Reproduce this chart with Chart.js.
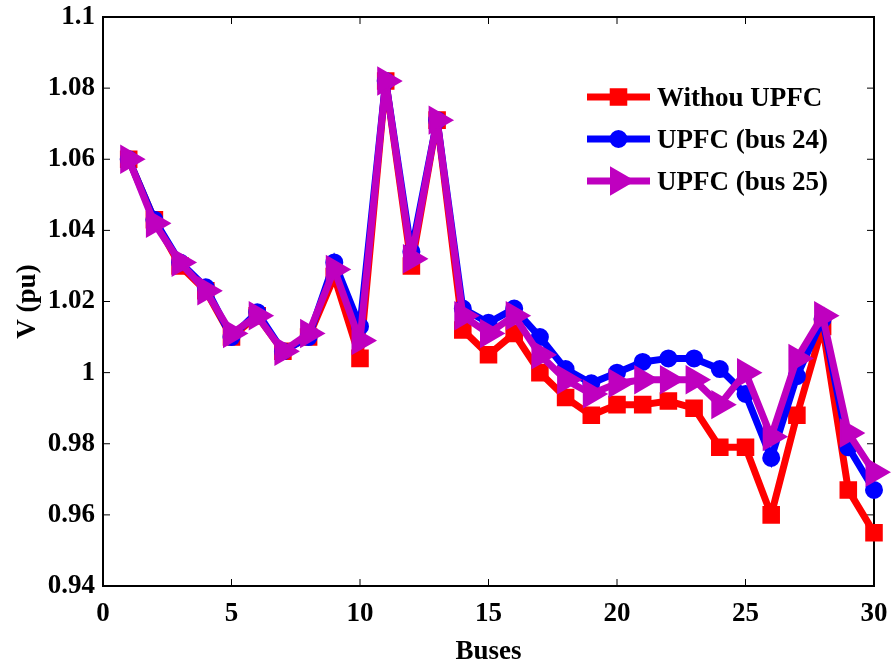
<!DOCTYPE html>
<html><head><meta charset="utf-8">
<script src="https://cdn.jsdelivr.net/npm/chart.js@4/dist/chart.umd.min.js"></script>
<style>html,body{margin:0;padding:0;background:#fff;overflow:hidden}</style>
</head><body>
<canvas id="c" width="891" height="669"></canvas>
<script>
const buses = [1,2,3,4,5,6,7,8,9,10,11,12,13,14,15,16,17,18,19,20,21,22,23,24,25,26,27,28,29,30];
const withoutUpfc = [1.060,1.043,1.030,1.023,1.010,1.016,1.006,1.010,1.027,1.004,1.082,1.030,1.071,1.012,1.005,1.011,1.000,0.993,0.988,0.991,0.991,0.992,0.990,0.979,0.979,0.960,0.988,1.013,0.967,0.955];
const upfcBus24 = [1.060,1.043,1.031,1.024,1.010,1.017,1.006,1.010,1.031,1.013,1.082,1.034,1.071,1.018,1.014,1.018,1.010,1.001,0.997,1.000,1.003,1.004,1.004,1.001,0.994,0.976,0.999,1.015,0.979,0.967];
const upfcBus25 = [1.060,1.042,1.031,1.023,1.011,1.016,1.006,1.011,1.029,1.009,1.082,1.032,1.071,1.016,1.011,1.016,1.005,0.998,0.994,0.997,0.998,0.998,0.998,0.991,1.000,0.982,1.004,1.016,0.983,0.972];
const seriesLabels = ['Withou UPFC','UPFC (bus 24)','UPFC (bus 25)'];
const xTicks = [0,5,10,15,20,25,30];
const yTicks = [0.94,0.96,0.98,1.00,1.02,1.04,1.06,1.08,1.10];

const FONT = {family:'"Liberation Serif", "Times New Roman", serif', size:27, weight:'bold'};
const pts = arr => buses.map((b,i)=>({x:b, y:arr[i]}));

const framePlugin = {
  id:'frame',
  beforeDatasetsDraw(chart){
    const {ctx, chartArea:a, scales:{x,y}} = chart;
    ctx.save();
    ctx.strokeStyle = '#000';
    ctx.lineWidth = 1;
    const L = 7;
    ctx.beginPath();
    xTicks.forEach(v=>{
      const px = x.getPixelForValue(v);
      ctx.moveTo(px,a.bottom); ctx.lineTo(px,a.bottom-L);
      ctx.moveTo(px,a.top); ctx.lineTo(px,a.top+L);
    });
    yTicks.forEach(v=>{
      const py = y.getPixelForValue(v);
      ctx.moveTo(a.left,py); ctx.lineTo(a.left+L,py);
      ctx.moveTo(a.right,py); ctx.lineTo(a.right-L,py);
    });
    ctx.stroke();
    ctx.lineWidth = 2;
    ctx.strokeRect(a.left, a.top, a.right-a.left, a.bottom-a.top);
    ctx.restore();
    ctx.miterLimit = 3;
  }
};

const legendPlugin = {
  id:'innerLegend',
  afterDatasetsDraw(chart){
    const {ctx, chartArea:a} = chart;
    ctx.miterLimit = 10;
    const x0 = a.right - 287, x1 = x0 + 63;
    chart.data.datasets.forEach((ds,i)=>{
      const yy = a.top + 80 + i*42;
      ctx.save();
      ctx.strokeStyle = ds.borderColor; ctx.lineWidth = ds.borderWidth;
      ctx.beginPath(); ctx.moveTo(x0,yy); ctx.lineTo(x1,yy); ctx.stroke();
      ctx.fillStyle = ds.pointBackgroundColor; ctx.strokeStyle = ds.pointBorderColor; ctx.lineWidth = ds.pointBorderWidth;
      Chart.helpers.drawPoint(ctx, {pointStyle: ds.pointStyle, rotation: ds.pointRotation||0, radius: ds.pointRadius, borderWidth: ds.pointBorderWidth}, (x0+x1)/2, yy);
      ctx.fillStyle = '#000';
      ctx.font = 'bold 27px "Liberation Serif"';
      ctx.textBaseline = 'middle'; ctx.textAlign = 'left';
      ctx.fillText(ds.label, x1+7, yy+2);
      ctx.restore();
    });
  }
};

new Chart(document.getElementById('c'), {
  type:'line',
  data:{
    datasets:[
      {label:seriesLabels[0], data:pts(withoutUpfc), borderColor:'#FF0000', backgroundColor:'#FF0000', borderWidth:7,
       pointStyle:'rect', pointRadius:11, pointBackgroundColor:'#FF0000', pointBorderColor:'#FF0000', pointBorderWidth:2, order:2, clip:false},
      {label:seriesLabels[1], data:pts(upfcBus24), borderColor:'#0000FF', backgroundColor:'#0000FF', borderWidth:7,
       pointStyle:'circle', pointRadius:8, pointBackgroundColor:'#0000FF', pointBorderColor:'#0000FF', pointBorderWidth:2, order:1, clip:false},
      {label:seriesLabels[2], data:pts(upfcBus25), borderColor:'#BF00BF', backgroundColor:'#BF00BF', borderWidth:7,
       pointStyle:'triangle', pointRotation:90, pointRadius:15, pointBackgroundColor:'#BF00BF', pointBorderColor:'#BF00BF', pointBorderWidth:2, order:0, clip:false}
    ]
  },
  options:{
    responsive:false, animation:false, devicePixelRatio:1,
    layout:{padding:{top:11, right:16, left:0, bottom:0}},
    plugins:{legend:{display:false}, tooltip:{enabled:false}},
    elements:{line:{tension:0, borderJoinStyle:'miter'}},
    scales:{
      x:{type:'linear', min:0, max:30,
         afterBuildTicks:s=>{s.ticks = xTicks.map(v=>({value:v}));},
         afterFit:s=>{s.height = 83; s.paddingLeft = 0; s.paddingRight = 0;},
         grid:{display:false, drawTicks:false}, border:{display:false},
         ticks:{font:FONT, color:'#000', padding:12, maxRotation:0, autoSkip:false},
         title:{display:true, text:'Buses', font:FONT, color:'#000', padding:{top:0,bottom:1}}},
      y:{type:'linear', min:0.94, max:1.1,
         afterBuildTicks:s=>{s.ticks = yTicks.map(v=>({value:v}));},
         afterFit:s=>{s.width = 103; s.paddingTop = 0; s.paddingBottom = 0;},
         grid:{display:false, drawTicks:false}, border:{display:false},
         ticks:{font:FONT, color:'#000', padding:8, autoSkip:false, callback:v=>String(+Number(v).toFixed(2))},
         title:{display:true, text:'V (pu)', font:FONT, color:'#000', padding:{top:12,bottom:0}}}
    }
  },
  plugins:[framePlugin, legendPlugin]
});
</script>
</body></html>
